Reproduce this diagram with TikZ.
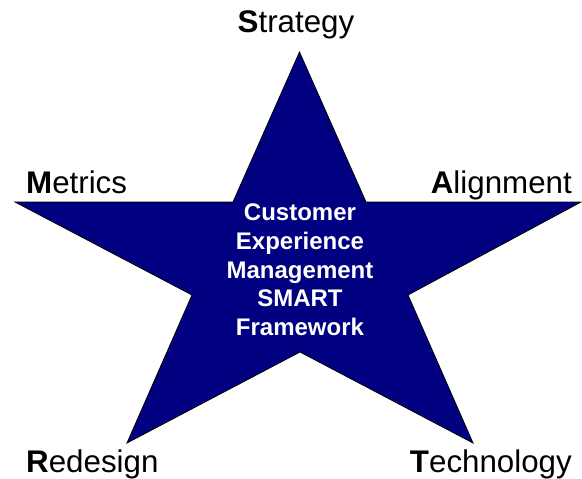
\documentclass[tikz,border=0pt]{standalone}
\usepackage{fontspec}
\setmainfont{Liberation Sans}
\definecolor{StarNavy}{RGB}{0, 0, 128}
\tikzstyle{starshape} = [draw=black, line width=0.8pt, fill=StarNavy, line join=miter]
\tikzstyle{pointlabel} = [inner sep=0pt, font=\fontsize{31.3}{35}\selectfont]
\tikzstyle{centerlabel} = [inner sep=0pt, align=center, text=white, font=\fontsize{24}{28.7}\selectfont\bfseries]

\begin{document}
\begin{tikzpicture}[x=1pt, y=-1pt]
\useasboundingbox (0,0) rectangle (582,479);

% Etoile
\coordinate (top) at (299.5,52);
\coordinate (innerTR) at (366,202);
\coordinate (right) at (581,202);
\coordinate (innerR) at (408,295);
\coordinate (botR) at (473,443);
\coordinate (innerB) at (300,352);
\coordinate (botL) at (127,443);
\coordinate (innerL) at (192,295);
\coordinate (left) at (15,202);
\coordinate (innerTL) at (233,202);
\draw [starshape] (top) -- (innerTR) -- (right) -- (innerR) -- (botR) -- (innerB)
    -- (botL) -- (innerL) -- (left) -- (innerTL) -- cycle;

% Texte central
\node (smart) [centerlabel] at (300,270) {Customer\\Experience\\Management\\SMART\\Framework};

% Les cinq pointes
\node (strategy) [pointlabel, anchor=base] at (296,32) {\textbf{S}trategy};
\node (metrics) [pointlabel, anchor=base west] at (26,193) {\textbf{M}etrics};
\node (alignment) [pointlabel, anchor=base east] at (572,193) {\textbf{A}lignment};
\node (redesign) [pointlabel, anchor=base west] at (26,472) {\textbf{R}edesign};
\node (technology) [pointlabel, anchor=base east] at (572,472) {\textbf{T}echnology};

\end{tikzpicture}
\end{document}
